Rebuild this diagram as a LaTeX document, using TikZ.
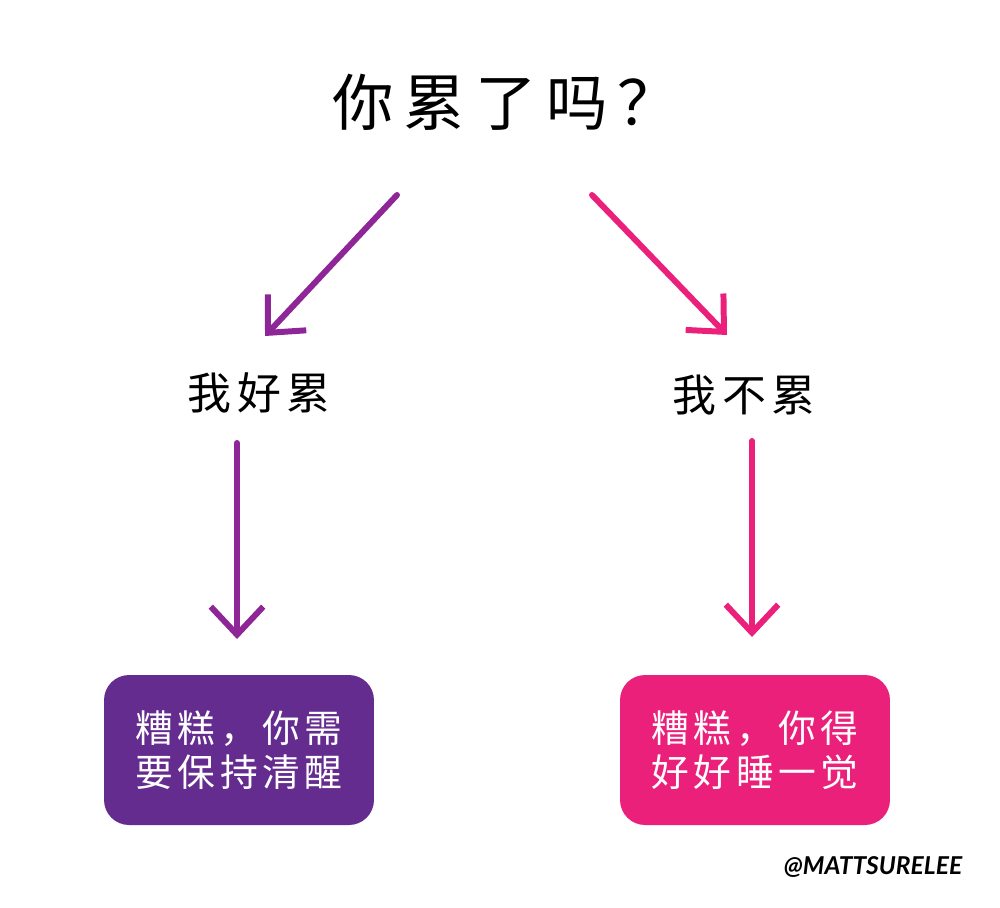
\documentclass[tikz,border=0pt]{standalone}
\usepackage{fontspec}
\usepackage{xcolor}
\usetikzlibrary{arrows.meta}
\usetikzlibrary{positioning}
\newfontfamily\cjk{Noto Sans CJK SC}
\newfontfamily\tagfont{Lato}
\definecolor{tiredpurple}{RGB}{142,38,152}
\definecolor{tiredbox}{RGB}{101,44,144}
\definecolor{awakepink}{RGB}{234,32,122}

\begin{document}
\begin{tikzpicture}[x=0.02cm,y=-0.02cm,semithick]
	\tikzstyle{flow}=[line width=3.4pt,line cap=round,line join=miter,-{Straight Barb[length=0.56cm,width=1.05cm]}]
	\tikzstyle{ask}=[font={\cjk\addfontfeature{LetterSpace=16}\fontsize{35}{40}\selectfont},inner sep=0pt]
	\tikzstyle{answer}=[font={\cjk\addfontfeature{LetterSpace=12}\fontsize{25}{30}\selectfont},inner sep=0pt]
	\tikzstyle{result}=[rounded corners=0.5cm,minimum width=5.4cm,minimum height=3cm,text=white,align=center,
		font={\cjk\addfontfeature{LetterSpace=12}\fontsize{21.5}{25}\selectfont}]
	\useasboundingbox (0,0) rectangle (1000,907);

		\node[ask]  (Q) at (506,102) {你累了吗？};
		\node[answer]  (Y) at (259,393) {我好累};
		\node[answer]  (N) at (744,395) {我不累};
		\node[result,fill=tiredbox]  (YB) at (239,750) {糟糕，你需\\要保持清醒};
		\node[result,fill=awakepink]  (NB) at (755,750) {糟糕，你得\\好好睡一觉};
		\node[font={\tagfont\bfseries\itshape\fontsize{14}{16}\selectfont}]  (tag) at (873,867) {@MATTSURELEE};

		\coordinate (Qy) at (397,195);
		\coordinate (Yt) at (265,336);
		\coordinate (Qn) at (592,195);
		\coordinate (Nt) at (727,335);
		\coordinate (Ys) at (237,443);
		\coordinate (Ye) at (237,639);
		\coordinate (Ns) at (752,441);
		\coordinate (Ne) at (752,637);

		\draw[flow,tiredpurple]  (Qy) -- (Yt);
		\draw[flow,awakepink]  (Qn) -- (Nt);
		\draw[flow,tiredpurple]  (Ys) -- (Ye);
		\draw[flow,awakepink]  (Ns) -- (Ne);
\end{tikzpicture}
\end{document}
